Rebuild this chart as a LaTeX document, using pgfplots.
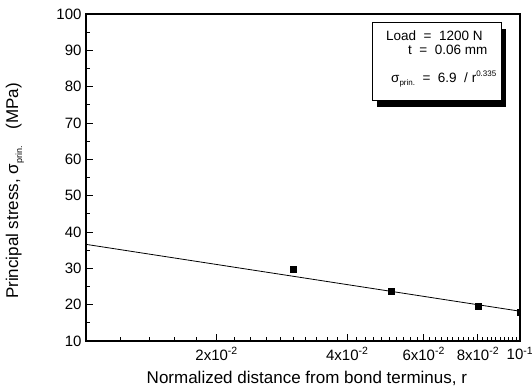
\documentclass[border=0pt]{standalone}
\usepackage{pgfplots}
\pgfplotsset{compat=1.18}
\usetikzlibrary{calc}
\usepackage{fontspec}
\setmainfont{Liberation Sans}
\newcommand{\sml}[1]{{\fontsize{8bp}{9bp}\selectfont #1}}
\begin{document}
\begin{tikzpicture}
\begin{axis}[
  name=ax,
  scale only axis,
  width=434bp, height=327bp,
  xmode=log,
  xmin=0.01, xmax=0.1,
  ymin=10, ymax=100,
  xtick={0.02,0.04,0.06,0.08,0.1},
  xticklabels={2x10\textsuperscript{-2},4x10\textsuperscript{-2},6x10\textsuperscript{-2},8x10\textsuperscript{-2},10\textsuperscript{-1}},
  minor xtick={0.012,0.014,0.016,0.018,0.022,0.024,0.026,0.028,0.030,0.032,0.034,0.036,0.038,0.042,0.044,0.046,0.048,0.050,0.052,0.054,0.056,0.058,0.062,0.064,0.066,0.068,0.070,0.072,0.074,0.076,0.078,0.082,0.084,0.086,0.088,0.090,0.092,0.094,0.096,0.098},
  ytick={10,20,30,40,50,60,70,80,90,100},
  minor ytick={15,25,35,45,55,65,75,85,95},
  tick pos=left, tick align=inside,
  major tick length=7bp, minor tick length=4bp,
  axis line style={line width=1.5bp},
  every tick/.style={black, line width=1bp},
  ticklabel style={font=\fontsize{15bp}{18bp}\selectfont},
  /pgf/number format/assume math mode=true,
  xticklabel style={yshift=-3bp},
  yticklabel style={xshift=-1bp},
  xlabel={Normalized distance from bond terminus, r},
  ylabel={Principal stress, σ\raisebox{-4bp}{{\fontsize{9bp}{10bp}\selectfont prin.}}\quad(MPa)},
  every axis x label/.style={at={(axis description cs:0.509,0)}, anchor=base, yshift=-42bp, font=\fontsize{17bp}{20bp}\selectfont},
  every axis y label/.style={at={(axis description cs:-0.1636,0.459)}, anchor=center, rotate=90, font=\fontsize{17bp}{20bp}\selectfont},
  clip marker paths=true,
]
\addplot[black, line width=0.8bp, mark=none] coordinates {(0.01,36.6) (0.1,18.2)};
\addplot[only marks, mark=square*, mark size=3bp, black] coordinates {(0.0301,29.7) (0.0504,23.6) (0.0803,19.7) (0.1,18.0)};
\end{axis}
\fill[black] ($(ax.south west)+(291bp,234bp)$) rectangle ($(ax.south west)+(420bp,312bp)$);
\filldraw[fill=white, draw=black, line width=0.6bp] ($(ax.south west)+(286bp,241bp)$) rectangle ($(ax.south west)+(415bp,319bp)$);
\node[anchor=base west, inner sep=0pt, font=\fontsize{13.5bp}{16bp}\selectfont] at ($(ax.south west)+(300bp,300bp)$) {Load\ \ =\ \ 1200 N};
\node[anchor=base west, inner sep=0pt, font=\fontsize{13.5bp}{16bp}\selectfont] at ($(ax.south west)+(322bp,286bp)$) {t\ \ =\ \ 0.06 mm};
\node[anchor=base west, inner sep=0pt, font=\fontsize{13.5bp}{16bp}\selectfont] at ($(ax.south west)+(305bp,258bp)$) {σ\raisebox{-3bp}{\sml{prin.}}\ \ =\ \ 6.9\ \ /\ r\raisebox{6bp}{\sml{0.335}}};
\pgfresetboundingbox
\path[use as bounding box] ($(ax.south west)+(-86bp,-50bp)$) rectangle ($(ax.south west)+(446bp,341bp)$);
\end{tikzpicture}
\end{document}
